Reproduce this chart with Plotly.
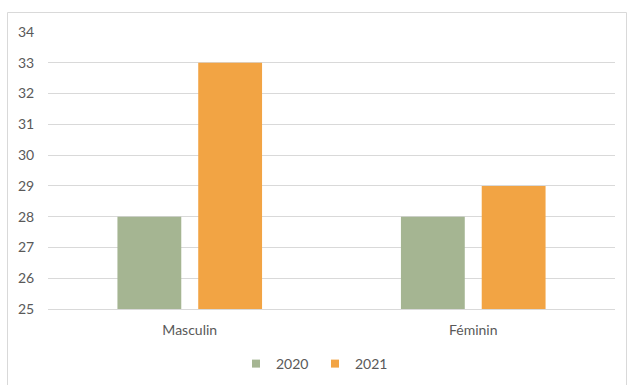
import plotly.graph_objects as go

categories = ["Masculin", "Féminin"]
values_2020 = [28, 28]
values_2021 = [33, 29]
series_names = ["2020", "2021"]
colors = ["#A5B592", "#F2A444"]
y_ticks = [25, 26, 27, 28, 29, 30, 31, 32, 33, 34]

fig = go.Figure()
for name, vals, col in zip(series_names, [values_2020, values_2021], colors):
    fig.add_trace(go.Bar(x=categories, y=vals, name=name,
                         marker=dict(color=col, line=dict(width=0)),
                         showlegend=False))
for name, col in zip(series_names, colors):
    fig.add_trace(go.Scatter(x=[None], y=[None], mode="markers", name=name,
                             marker=dict(symbol="square", size=8, color=col),
                             showlegend=True))

L, R, T, B = 48, 12, 32, 76
W, H = 627, 385
pw, ph = W - L - R, H - T - B

def px_x(px):
    return (px - L) / pw

def px_y(py):
    return (H - B - py) / ph

fig.update_layout(
    width=W, height=H,
    margin=dict(l=L, r=R, t=T, b=B, autoexpand=False),
    paper_bgcolor="white", plot_bgcolor="white",
    font=dict(family="Lato, Carlito, Liberation Sans, sans-serif", size=14, color="#595959"),
    barmode="group", bargap=0.43, bargroupgap=0.21,
    showlegend=True,
    legend=dict(orientation="h", x=px_x(236), xanchor="left", y=px_y(364), yanchor="middle",
                font=dict(size=14, color="#595959"), itemwidth=30, entrywidth=34,
                traceorder="normal"),
    xaxis=dict(showgrid=False, showline=True, linecolor="#D9D9D9", linewidth=1,
               ticks="outside", ticklen=8, tickcolor="rgba(0,0,0,0)",
               tickfont=dict(size=14, color="#595959"), zeroline=False),
    yaxis=dict(range=[25, 34], tickvals=y_ticks, showgrid=True, gridcolor="#D9D9D9",
               gridwidth=1, zeroline=False, showline=False,
               ticks="outside", ticklen=10, tickcolor="rgba(0,0,0,0)",
               tickfont=dict(size=14, color="#595959")),
    shapes=[dict(type="rect", xref="paper", yref="paper",
                 x0=px_x(7.5), x1=px_x(626.5), y0=px_y(400), y1=px_y(12.5),
                 line=dict(color="#D9D9D9", width=1), fillcolor="rgba(0,0,0,0)", layer="below")],
)

fig.write_html("out.html")
